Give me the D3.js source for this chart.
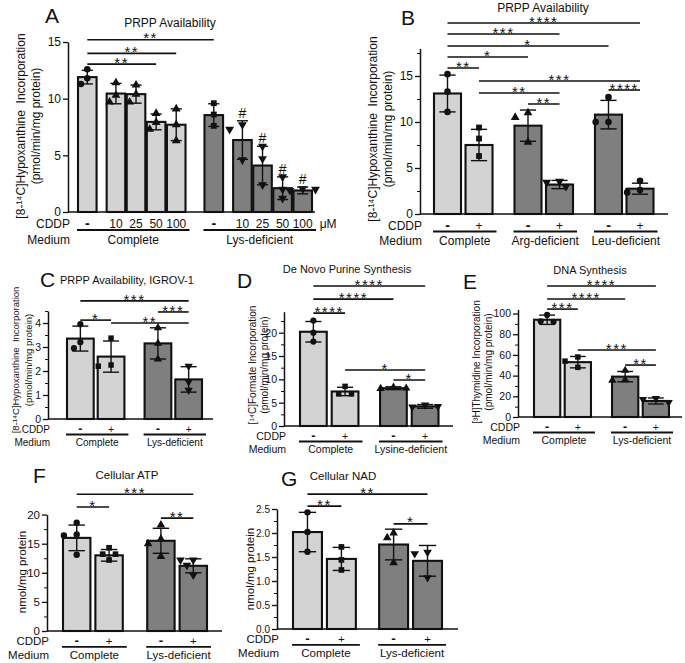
<!DOCTYPE html>
<html><head><meta charset="utf-8">
<script src="https://cdn.jsdelivr.net/npm/d3@7/dist/d3.min.js"></script>
<style>
body{margin:0;background:#fff;}
svg{font-family:"Liberation Sans",Arial,sans-serif;display:block;}
</style></head><body>
<svg id="fig" width="685" height="663"></svg>
<script>
// ================= DATA =================
// Panel A – PRPP availability, CDDP dose response
const aGroups = ["Complete", "Lys-deficient"];
const aDoses = ["-", "10", "25", "50", "100"];
const aMeans = [11.9, 10.45, 10.4, 7.95, 7.7, 8.55, 6.35, 4.1, 2.1, 1.9];
const aSD = [0.6, 0.9, 0.8, 0.7, 1.4, 1.0, 1.7, 1.7, 1.0, 0.3];
const aPoints = [[12.6,11.8,11.3],[11.4,10.3,9.7],[11.2,10.4,9.7],[8.7,7.9,7.3],[9.1,7.7,6.3],
                 [9.6,8.6,7.6],[7.7,7.3,4.6],[5.8,4.7,2.4],[3.1,2.0,1.2],[2.05,1.9,2.0]];
const aTicks = [0, 5, 10, 15];
const aSig = [[0,5,"**"],[0,4,"**"],[0,3,"**"]];
const aSigLevels = [15.2, 14.0, 13.05];
const aHash = [6, 7, 8, 9];

// Panel B – PRPP availability, amino-acid deficiency
const bGroups = ["Complete", "Arg-deficient", "Leu-deficient"];
const bCDDP = ["-", "+"];
const bMeans = [13.1, 7.5, 9.6, 3.2, 10.8, 2.75];
const bSD = [2.0, 1.7, 1.7, 0.45, 1.55, 0.6];
const bPoints = [[15.2,13.3,11.1],[9.4,8.2,6.3],[11.0,10.5,7.8],[3.55,3.45,3.0],[12.7,10.0,10.0],[3.6,2.6,2.35]];
const bTicks = [0, 5, 10, 15];
const bSig = [[0,5,"****"],[0,3,"***"],[0,4,"*"],[0,2,"*"],[0,1,"**"],[1,5,"***"],[1,3,"**"],[2,3,"**"],[4,5,"****"]];
const bSigLevels = [20.76, 19.57, 18.26, 17.07, 15.87, 14.46, 13.15, 11.96, 13.48];

// Panel C – PRPP availability, IGROV-1
const cGroups = ["Complete", "Lys-deficient"];
const cMeans = [3.35, 2.6, 3.15, 1.65];
const cSD = [0.52, 0.65, 0.65, 0.53];
const cPoints = [[3.95,3.2,2.95],[3.37,2.25,2.2],[3.8,3.15,2.5],[2.2,1.55,1.2]];
const cTicks = [0, 1, 2, 3, 4];
const cSig = [[0,3,"***"],[0,1,"*"],[1,3,"**"],[2,3,"***"]];
const cSigLevels = [4.92, 4.12, 4.0, 4.46];

// Panel D – De novo purine synthesis
const dGroups = ["Complete", "Lysine-deficient"];
const dMeans = [20.2, 7.4, 8.1, 4.2];
const dSD = [2.2, 0.9, 0.3, 0.4];
const dPoints = [[22.6,20.0,18.1],[8.5,6.9,6.9],[8.3,8.0,8.1],[4.5,4.1,4.2]];
const dTicks = [0, 5, 10, 15, 20];
const dSig = [[0,3,"****"],[0,2,"****"],[0,1,"****"],[1,3,"*"],[2,3,"*"]];
const dSigLevels = [30.0, 27.2, 24.2, 12.0, 9.86];

// Panel E – DNA synthesis
const eGroups = ["Complete", "Lys-deficient"];
const eMeans = [94, 53, 39, 15.5];
const eSD = [4.5, 5.5, 5, 2.9];
const ePoints = [[98.7,92.5,92],[58,54,48],[45,36,35.5],[18,17,14]];
const eTicks = [0, 20, 40, 60, 80, 100];
const eSig = [[0,3,"****"],[0,2,"****"],[0,1,"***"],[1,3,"***"],[2,3,"**"]];
const eSigLevels = [126.6, 114, 104.3, 64.7, 50.2];

// Panel F – Cellular ATP
const fGroups = ["Complete", "Lys-deficient"];
const fMeans = [16.0, 13.0, 15.5, 11.2];
const fSD = [2.2, 1.0, 2.15, 1.2];
const fPoints = [[18.6,16.6,16.4,13.1],[14.3,13.2,13.2,12.2],[18.2,15.8,15.0,12.8],[12.2,12.2,11.3,9.6]];
const fTicks = [0, 5, 10, 15, 20];
const fSig = [[0,3,"***"],[0,1,"*"],[2,3,"**"]];
const fSigLevels = [23.5, 21.3, 19.4];

// Panel G – Cellular NAD
const gGroups = ["Complete", "Lys-deficient"];
const gMeans = [2.02, 1.46, 1.76, 1.42];
const gSD = [0.41, 0.24, 0.32, 0.32];
const gPoints = [[2.43,2.02,1.61],[1.71,1.44,1.23],[2.0,1.9,1.38],[1.6,1.57,1.07]];
const gTicks = [0, 0.5, 1.0, 1.5, 2.0, 2.5];
const gSig = [[0,3,"**"],[0,1,"**"],[2,3,"*"]];
const gSigLevels = [2.81, 2.56, 2.19];

// ================= DRAWING =================
const svg = d3.select("#fig");
svg.append("rect").attr("width",685).attr("height",663).attr("fill","#fff");
const LIGHT = "#d3d3d3", DARK = "#7f7f7f", INK = "#111";

function shapePath(shape, size){
  const t = {circle:d3.symbolCircle, square:d3.symbolSquare, triUp:d3.symbolTriangle, triDown:d3.symbolTriangle}[shape];
  return d3.symbol().type(t).size(size)();
}

function swarm(vals, y, minD){
  const placed = [];
  return vals.map(v=>{
    const py = y(v);
    for (const k of [0,-1,1,-2,2]){
      const dx = k*minD*0.8;
      if (placed.every(p=>Math.hypot(p.dx-dx, p.py-py) >= minD)){ placed.push({dx,py}); return dx; }
    }
    placed.push({dx:0,py}); return 0;
  });
}

function bandLayout(groups, inner, range, gPad, bPad){
  const gx = d3.scaleBand().domain(groups).range(range).paddingInner(gPad).paddingOuter(0);
  const bx = d3.scaleBand().domain(inner).range([0, gx.bandwidth()]).paddingInner(bPad).paddingOuter(0);
  const out = [];
  groups.forEach((gn,gi)=>inner.forEach(c=>out.push({
    cx: gx(gn)+bx(c)+bx.bandwidth()/2, w: bx.bandwidth(), gi, group: gn, cat: c,
    x0: gx(gn), x1: gx(gn)+gx.bandwidth()})));
  return out;
}

function vlabel(x, yc, fs, str){
  svg.append("text").attr("transform",`translate(${x+fs*0.32},${yc}) rotate(-90)`)
    .attr("text-anchor","middle").attr("font-size",fs).attr("fill",INK).style("white-space","pre").text(str);
}

function drawPanel(o){
  const y = o.y, g = svg.append("g");
  const bars = o.layout.map((b,i)=>Object.assign({}, b, {mean:o.means[i], sd:o.sd[i], pts:o.points[i],
      fill: b.gi===0?LIGHT:DARK, shape:o.shapes[i]}));
  // bars
  g.selectAll("rect.bar").data(bars).join("rect").attr("class","bar")
    .attr("x",d=>d.cx-d.w/2).attr("y",d=>y(d.mean)).attr("width",d=>d.w).attr("height",d=>y(0)-y(d.mean))
    .attr("fill",d=>d.fill).attr("stroke",INK).attr("stroke-width",2.1);
  // error bars
  bars.forEach(d=>{
    const t = y(d.mean+d.sd), b = y(d.mean-d.sd), cw = d.w*0.3;
    g.append("line").attr("x1",d.cx).attr("x2",d.cx).attr("y1",t).attr("y2",b).attr("stroke",INK).attr("stroke-width",1.4);
    [t,b].forEach(yy=>g.append("line").attr("x1",d.cx-cw).attr("x2",d.cx+cw).attr("y1",yy).attr("y2",yy).attr("stroke",INK).attr("stroke-width",1.4));
  });
  // points
  bars.forEach(d=>{
    const offs = swarm(d.pts, y, o.ptD||8);
    d.pts.forEach((v,k)=>{
      g.append("path").attr("d",shapePath(d.shape, o.ptSize||34))
        .attr("transform",`translate(${d.cx+offs[k]},${y(v)})${d.shape==="triDown"?" rotate(180)":""}`)
        .attr("fill",INK);
    });
  });
  // y axis
  const ax = g.append("g").attr("transform",`translate(${o.axisX},0)`)
    .call(d3.axisLeft(y).tickValues(o.ticks).tickSize(5).tickSizeOuter(0).tickPadding(2).tickFormat(o.fmt||d3.format("d")));
  ax.select(".domain").attr("stroke",INK).attr("stroke-width",1.5);
  ax.selectAll(".tick line").attr("stroke",INK).attr("stroke-width",1.3);
  ax.selectAll(".tick text").attr("font-size",o.tickFs).attr("font-family","Liberation Sans, Arial, sans-serif").attr("fill",INK);
  if (o.minor){
    const mt = d3.range(0, y.domain()[1]+1e-9, o.minor).filter(v=>!o.ticks.some(t=>Math.abs(t-v)<1e-9));
    g.append("g").attr("transform",`translate(${o.axisX},0)`)
      .call(d3.axisLeft(y).tickValues(mt).tickSize(3).tickFormat(""))
      .call(s=>{s.select(".domain").remove(); s.selectAll("line").attr("stroke",INK).attr("stroke-width",1);});
  }
  // x axis line
  g.append("line").attr("x1",o.axisX).attr("x2",o.xEnd).attr("y1",y(0)).attr("y2",y(0)).attr("stroke",INK).attr("stroke-width",1.6);
  // significance brackets
  o.sig.forEach(([i,j,lab],k)=>{
    const yy = y(o.sigLevels[k]);
    g.append("line").attr("x1",bars[i].cx).attr("x2",bars[j].cx).attr("y1",yy).attr("y2",yy).attr("stroke",INK).attr("stroke-width",1.6);
    g.append("text").attr("x",(bars[i].cx+bars[j].cx)/2).attr("y",yy+3.6).attr("text-anchor","middle")
      .attr("font-size",15).attr("letter-spacing",1.5).attr("fill",INK).text(lab);
  });
  // hash marks
  (o.hash||[]).forEach(i=>{
    const d = bars[i];
    g.append("text").attr("x",d.cx).attr("y",y(d.mean+d.sd)-3).attr("text-anchor","middle").attr("font-size",14).attr("fill",INK).text("#");
  });
  // bottom labels
  const y0 = y(0), fs = o.botFs;
  g.append("text").attr("x",o.axisX+2).attr("y",y0+o.rows[0]).attr("text-anchor","end").attr("font-size",fs).attr("fill",INK).text("CDDP");
  g.append("text").attr("x",o.axisX+2).attr("y",y0+o.rows[2]).attr("text-anchor","end").attr("font-size",fs).attr("fill",INK).text("Medium");
  bars.forEach(d=>{
    const isMinus = d.cat==="-";
    g.append("text").attr("x",d.cx).attr("y",y0+o.rows[0]).attr("text-anchor","middle")
      .attr("font-size",isMinus?fs+2:fs).attr("font-weight",isMinus?"bold":"normal").attr("fill",INK).text(d.cat);
  });
  const groups = d3.groups(bars, d=>d.group);
  groups.forEach(([name, bs])=>{
    const x0 = bs[0].x0 - 1, x1 = bs[0].x1 + 4;
    g.append("line").attr("x1",x0).attr("x2",x1).attr("y1",y0+o.rows[1]).attr("y2",y0+o.rows[1]).attr("stroke",INK).attr("stroke-width",1.8);
    g.append("text").attr("x",(x0+x1)/2).attr("y",y0+o.rows[2]).attr("text-anchor","middle").attr("font-size",fs).attr("fill",INK).text(name);
  });
  if (o.unit){
    const last = bars[bars.length-1];
    g.append("text").attr("x",last.cx+17).attr("y",y0+o.rows[0]).attr("font-size",fs).attr("fill",INK).text(o.unit);
  }
  // title & letter
  svg.append("text").attr("x",o.title.x).attr("y",o.title.y).attr("text-anchor",o.title.anchor||"middle")
    .attr("font-size",o.title.fs).attr("fill",INK).text(o.title.text);
  svg.append("text").attr("x",o.letter.x).attr("y",o.letter.y).attr("font-size",21).attr("fill",INK).text(o.letter.text);
  // y label
  o.ylab.lines.forEach((str,k)=>vlabel(o.ylab.x[k], o.ylab.yc, o.ylab.fs, str));
  return bars;
}

// ---- Panel A layout (control bar offset from dose bars)
const aLayout = (()=>{
  const gx = d3.scaleBand().domain(aGroups).range([78, 312]).paddingInner(0.15).paddingOuter(0);
  const slot = d3.scaleLinear().domain([0, 5.35]).range([0, gx.bandwidth()]);
  const out = [];
  aGroups.forEach((gn,gi)=>aDoses.forEach((c,i)=>{
    const s = i===0 ? 0 : i + 0.425, w = slot(0.925);
    out.push({cx: gx(gn)+slot(s)+w/2, w, gi, group:gn, cat:c, x0:gx(gn), x1:gx(gn)+gx.bandwidth()});
  }));
  return out;
})();
const hypoLab = ["[8-\u00B9\u2074C]Hypoxanthine  Incorporation", "(pmol/min/mg protein)"];

drawPanel({
  y: d3.scaleLinear().domain([0,15]).range([212,42]), axisX:68, xEnd:315, ticks:aTicks, tickFs:12,
  layout:aLayout, means:aMeans, sd:aSD, points:aPoints,
  shapes:["circle","triUp","triUp","triUp","triUp","square","triDown","triDown","triDown","triDown"],
  sig:aSig, sigLevels:aSigLevels, hash:aHash, botFs:12, rows:[16,18,31.5], unit:"μM",
  title:{text:"PRPP Availability", x:170, y:27, fs:12}, letter:{text:"A", x:45, y:23},
  ylab:{lines:hypoLab, x:[21,36], yc:126, fs:12}
});

drawPanel({
  y: d3.scaleLinear().domain([0,18]).range([214,48.4]), axisX:420, xEnd:668, ticks:bTicks, tickFs:12, minor:2.5,
  layout:bandLayout(bGroups, bCDDP, [434,653.5], 0.273, 0.143), means:bMeans, sd:bSD, points:bPoints,
  shapes:["circle","square","triUp","triDown","circle","circle"],
  sig:bSig, sigLevels:bSigLevels, botFs:12, rows:[15.5,17.5,31],
  title:{text:"PRPP Availability", x:543, y:12, fs:12}, letter:{text:"B", x:401, y:25},
  ylab:{lines:hypoLab, x:[373,388], yc:129, fs:12}
});

drawPanel({
  y: d3.scaleLinear().domain([0,4.5]).range([419,311]), axisX:48, xEnd:213, ticks:cTicks, tickFs:10.5, minor:0.5,
  layout:bandLayout(cGroups, ["-","+"], [67,202], 0.26, 0.13), means:cMeans, sd:cSD, points:cPoints,
  shapes:["circle","square","triUp","triDown"], ptSize:30,
  sig:cSig, sigLevels:cSigLevels, botFs:10, rows:[13.5,15.5,27],
  title:{text:"PRPP Availability, IGROV-1", x:60, y:284, fs:11, anchor:"start"}, letter:{text:"C", x:40, y:287},
  ylab:{lines:hypoLab, x:[16,29], yc:360, fs:9.5}
});

drawPanel({
  y: d3.scaleLinear().domain([0,24.5]).range([426,311.7]), axisX:284, xEnd:453, ticks:dTicks, tickFs:10.5, minor:2.5,
  layout:bandLayout(dGroups, ["-","+"], [300,438.5], 0.27, 0.156), means:dMeans, sd:dSD, points:dPoints,
  shapes:["circle","square","triUp","triDown"], ptSize:30,
  sig:dSig, sigLevels:dSigLevels, botFs:10.5, rows:[13.5,15.5,27],
  title:{text:"De Novo Purine Synthesis", x:347, y:273, fs:11}, letter:{text:"D", x:237, y:288},
  ylab:{lines:["[\u00B9\u2074C]Formate Incorporation", "(pmol/min/mg protein)"], x:[253,265], yc:365, fs:10}
});

drawPanel({
  y: d3.scaleLinear().domain([0,104]).range([417,309.4]), axisX:518, xEnd:682, ticks:eTicks, tickFs:10.5, minor:10,
  layout:bandLayout(eGroups, ["-","+"], [534,669], 0.27, 0.145), means:eMeans, sd:eSD, points:ePoints,
  shapes:["circle","square","triUp","triDown"], ptSize:30,
  sig:eSig, sigLevels:eSigLevels, botFs:10.5, rows:[13.5,15.5,27],
  title:{text:"DNA Synthesis", x:590, y:274, fs:11}, letter:{text:"E", x:463, y:289},
  ylab:{lines:["[\u00B3H]Thymidine Incorporation", "(pmol/min/mg protein)"], x:[477,489], yc:362, fs:10}
});

drawPanel({
  y: d3.scaleLinear().domain([0,20]).range([631,514.6]), axisX:47, xEnd:222, ticks:fTicks, tickFs:11.5, minor:2.5,
  layout:bandLayout(fGroups, ["-","+"], [63,207], 0.29, 0.154), means:fMeans, sd:fSD, points:fPoints,
  shapes:["circle","square","triUp","triDown"], ptSize:32,
  sig:fSig, sigLevels:fSigLevels, botFs:11.5, rows:[14,15.8,27.8],
  title:{text:"Cellular ATP", x:127, y:479, fs:11.5}, letter:{text:"F", x:33, y:483},
  ylab:{lines:["nmol/mg protein"], x:[22], yc:572, fs:11.5}
});

drawPanel({
  y: d3.scaleLinear().domain([0,2.5]).range([629,509]), axisX:277, xEnd:458, ticks:gTicks, tickFs:10, minor:0.25,
  fmt:d3.format(".1f"),
  layout:bandLayout(gGroups, ["-","+"], [293,442], 0.27, 0.147), means:gMeans, sd:gSD, points:gPoints,
  shapes:["circle","square","triUp","triDown"], ptSize:32,
  sig:gSig, sigLevels:gSigLevels, botFs:11.5, rows:[14,15.8,28],
  title:{text:"Cellular NAD", x:343, y:480, fs:11.5}, letter:{text:"G", x:281, y:486},
  ylab:{lines:["nmol/mg protein"], x:[250], yc:569, fs:11.5}
});
</script>
</body></html>
